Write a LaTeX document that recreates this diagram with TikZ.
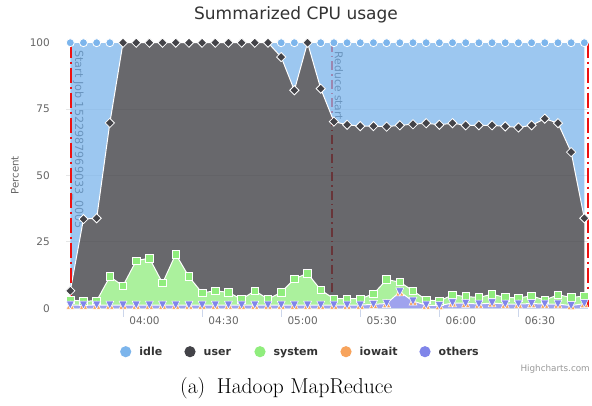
\documentclass[tikz,border=0pt]{standalone}
\usepackage{fontspec}
\newfontfamily\hcfont{DejaVu Sans}
\newfontfamily\hcbold{DejaVu Sans Bold}

\definecolor{idlec}{HTML}{7CB5EC}
\definecolor{userc}{HTML}{434348}
\definecolor{sysc}{HTML}{90ED7D}
\definecolor{iowc}{HTML}{F7A35C}
\definecolor{othc}{HTML}{8085E9}
\definecolor{gridc}{HTML}{E6E6E6}
\definecolor{axisc}{HTML}{CCD6EB}
\definecolor{titlec}{HTML}{333333}
\definecolor{labc}{HTML}{666666}
\definecolor{creditc}{HTML}{999999}
\definecolor{jobred}{HTML}{EE1111}

% stacked tops (percent) sampled every 5 minutes
\def\uvals{6.6,33.6,33.9,69.8,100,100,100,100,100,100,100,100,100,100,100,100,94.6,82.1,100,82.7,70.3,69.1,68.6,68.6,68.4,68.9,69.3,69.7,69.1,69.7,68.9,68.9,68.9,68.5,68.1,68.9,71.4,69.7,58.8,33.9}
\def\svals{3.1,2.7,2.8,11.9,8.5,17.9,18.9,9.5,20.4,11.9,5.8,6.6,6.0,3.4,6.6,3.5,6.0,11.1,13.2,6.9,3.6,3.6,3.6,5.4,10.8,9.9,6.6,3.2,2.7,5.1,4.4,4.1,5.3,4.1,3.9,4.7,3.1,5.1,4.1,4.6}
\def\ovals{1.2,1.2,1.2,1.2,1.2,1.2,1.2,1.2,1.2,1.2,1.2,1.2,1.2,1.2,1.2,1.2,1.2,1.2,1.2,1.2,1.2,1.2,1.2,1.5,1.8,6.2,2.7,1.2,1.0,2.0,1.9,1.6,2.0,1.6,1.6,1.8,1.6,1.6,1.0,1.8}

% forward and reversed polyline through a series
\newcommand\buildpath[3]{%
  \gdef#2{}\gdef#3{}%
  \foreach \v [count=\i from 0] in #1 {%
    \pgfmathsetmacro\xx{70.3+13.18*\i}%
    \pgfmathsetmacro\yy{308.3-2.656*\v}%
    \ifnum\i=0 \xdef#2{(\xx,\yy)}\xdef#3{(\xx,\yy)}%
    \else \xdef#2{#2 -- (\xx,\yy)}\xdef#3{(\xx,\yy) -- #3}\fi
  }}

\begin{document}
\begin{tikzpicture}[x=1pt,y=-1pt,
  ylab/.style={font=\hcfont\fontsize{10.5}{12}\selectfont, text=labc, inner sep=0pt},
  xlab/.style={font=\hcfont\fontsize{10.5}{12}\selectfont, text=labc, inner sep=0pt},
  legtext/.style={font=\hcbold\fontsize{11}{13}\selectfont, text=titlec, inner sep=0pt},
  plabel/.style={text=titlec, inner sep=0pt},
  band/.style={fill opacity=0.75},
  serline/.style={white, line width=1pt, line join=round},
  jobline/.style={jobred, line width=2pt, dash pattern=on 15pt off 4pt on 2pt off 4pt},
  redline/.style={red, line width=1.5pt, dash pattern=on 9pt off 4pt on 1.5pt off 4pt},
  mk/.style={draw=white, line width=0.8pt}]

\useasboundingbox (0,0) rectangle (592,405);
\fill[white] (0,0) rectangle (592,405);

\buildpath{\uvals}{\upath}{\urev}
\buildpath{\svals}{\spath}{\srev}
\buildpath{\ovals}{\opath}{\orev}

% title
\node[font=\hcfont\fontsize{17}{20}\selectfont, text=titlec] (title) at (296,14.5) {Summarized CPU usage};

% grid and y axis
\foreach \v in {25,50,75,100}
  \draw[gridc, line width=1pt] (66,{308.3-2.656*\v}) -- (588,{308.3-2.656*\v});
\foreach \v in {0,25,50,75,100}
  \node[ylab, anchor=east] (ylab\v) at (50,{308.3-2.656*\v}) {\v};
\node[font=\hcfont\fontsize{10.2}{12}\selectfont, text=labc, rotate=90] (ytitle) at (15,175.3) {Percent};

% plot line and labels that sit under the areas
\draw[redline] (332,42.7) -- (332,308.3);
\node[plabel, rotate=-90, anchor=west, font=\hcfont\fontsize{11.2}{13}\selectfont] (startlbl) at (78,50) {Start Job 1522987969033\_0005};
\node[plabel, rotate=-90, anchor=west, font=\hcfont\fontsize{10.8}{13}\selectfont] (reducelbl) at (339,51.5) {Reduce start};

% stacked areas
\fill[band, idlec] (70.3,42.7) -- (584.32,42.7) -- \urev -- cycle;
\fill[band, userc, fill opacity=0.8] \upath -- \srev -- cycle;
\fill[band, sysc] \spath -- \orev -- cycle;
\fill[band, othc] \opath -- (584.32,308.3) -- (70.3,308.3) -- cycle;

% series lines
\draw[serline] (70.3,42.7) -- (584.32,42.7);
\draw[serline] \upath;
\draw[serline] \spath;
\draw[serline] \opath;

% x axis
\draw[axisc, line width=1pt] (66,308.8) -- (588,308.8);
\foreach \k/\t in {4/04:00,10/04:30,16/05:00,22/05:30,28/06:00,34/06:30} {
  \pgfmathsetmacro\xx{70.3+13.18*\k}
  \draw[axisc, line width=1pt] (\xx,308.8) -- (\xx,317);
  \node[xlab] (xl\k) at (\xx+21.5,321) {\t};
}

% job start and end lines
\draw[jobline] (70.5,42.7) -- (70.5,308.3);
\draw[jobline] (587.7,42.7) -- (587.7,307);

% markers
\foreach \v [count=\i from 0] in \uvals {
  \pgfmathsetmacro\xx{70.3+13.18*\i}
  \ifdim \v pt<99.5pt
    \fill[idlec, mk] (\xx,42.7) circle (4pt);
  \fi
}
\foreach \v [count=\i from 0] in \uvals {
  \pgfmathsetmacro\xx{70.3+13.18*\i}
  \pgfmathsetmacro\yy{308.3-2.656*\v}
  \filldraw[fill=userc, mk] (\xx,\yy) +(0,-4.6) -- +(4.6,0) -- +(0,4.6) -- +(-4.6,0) -- cycle;
}
\foreach \v [count=\i from 0] in \svals {
  \pgfmathsetmacro\xx{70.3+13.18*\i}
  \pgfmathsetmacro\yy{308.3-2.656*\v}
  \filldraw[fill=sysc, mk] (\xx,\yy) +(-3.8,-3.8) rectangle +(3.8,3.8);
}
\foreach \v [count=\i from 0] in \ovals {
  \pgfmathsetmacro\xx{70.3+13.18*\i}
  \pgfmathsetmacro\yy{308.3-2.656*\v}
  \filldraw[fill=iowc, draw=white, line width=0.5pt] (\xx,\yy) +(0,-4) -- +(4,4) -- +(-4,4) -- cycle;
  \filldraw[fill=othc, draw=white, line width=0.5pt] (\xx,\yy) +(-4,-4) -- +(4,-4) -- +(0,4) -- cycle;
}

% legend
\foreach \nm/\cl/\lx in {idle/idlec/125.7,user/userc/190,system/sysc/260,iowait/iowc/346,others/othc/425} {
  \fill[\cl] (\lx,351.7) circle (5.6pt);
  \node[legtext, anchor=base west] (leg\nm) at (\lx+13.5,355.7) {\nm};
}

\node[font=\hcfont\fontsize{8.8}{10}\selectfont, text=creditc, anchor=east, inner sep=0pt] (credit) at (590,369) {Highcharts.com};

% caption
\node[font=\fontsize{21.5}{25}\selectfont, anchor=base west, inner sep=0pt] (caption) at (180,393.3) {(a)\hspace{11.6pt}Hadoop MapReduce};
\end{tikzpicture}
\end{document}
